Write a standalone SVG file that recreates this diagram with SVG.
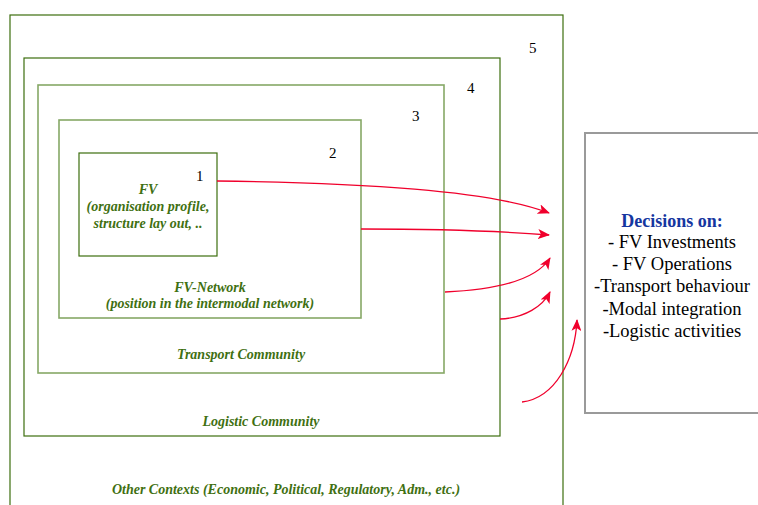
<svg xmlns="http://www.w3.org/2000/svg" width="758" height="505" viewBox="0 0 758 505">
<defs>
<style>
.bx{fill:none;stroke:#3d6e0e;stroke-width:1.2}
.bl{fill:none;stroke:#86a866;stroke-width:1.6}
.num{font-family:"Liberation Serif",serif;font-size:15px;fill:#000}
.gl{font-family:"Liberation Serif",serif;font-size:14px;font-weight:bold;font-style:italic;fill:#3f7012;text-anchor:middle}
.dt{font-family:"Liberation Serif",serif;font-size:18.5px;fill:#000;text-anchor:middle}
.dh{font-family:"Liberation Serif",serif;font-size:18px;font-weight:bold;fill:#1536a0;text-anchor:middle}
.ar{fill:none;stroke:#f0002c;stroke-width:1.3;marker-end:url(#ah)}
</style>
<marker id="ah" viewBox="0 0 12 10" refX="11" refY="5" markerWidth="12" markerHeight="10" markerUnits="userSpaceOnUse" orient="auto">
<path d="M0,0 L12,5 L0,10 L3,5 Z" fill="#f0002c"/>
</marker>
</defs>
<rect width="758" height="505" fill="#fff"/>
<g id="ctx5"><rect class="bx" x="10" y="15" width="553" height="500"/><text class="num" x="529" y="53">5</text><text class="gl" x="286" y="494">Other Contexts (Economic, Political, Regulatory, Adm., etc.)</text></g>
<g id="ctx4"><rect class="bx" x="24" y="58" width="476" height="378"/><text class="num" x="467" y="93">4</text><text class="gl" x="261" y="426">Logistic Community</text></g>
<g id="ctx3"><rect class="bl" x="38" y="85" width="406" height="288"/><text class="num" x="412" y="121">3</text><text class="gl" x="241" y="359">Transport Community</text></g>
<g id="ctx2"><rect class="bl" x="59" y="120" width="302" height="198"/><text class="num" x="329" y="158">2</text><text class="gl" x="210" y="292">FV-Network</text><text class="gl" x="210" y="308">(position in the intermodal network)</text></g>
<g id="ctx1"><rect class="bx" x="79" y="153" width="138" height="103"/><text class="num" x="196" y="181">1</text><text class="gl" x="148" y="194">FV</text><text class="gl" x="148" y="211">(organisation profile,</text><text class="gl" x="148" y="228">structure lay out, ..</text></g>
<g id="decisions"><rect x="585" y="133" width="180" height="280" fill="none" stroke="#9a9a9a" stroke-width="2"/>
<text class="dh" x="672" y="227">Decisions on:</text>
<text class="dt" x="672" y="248">- FV Investments</text>
<text class="dt" x="672" y="270">- FV Operations</text>
<text class="dt" x="672" y="292">-Transport behaviour</text>
<text class="dt" x="672" y="315">-Modal integration</text>
<text class="dt" x="672" y="337">-Logistic activities</text></g>
<g id="connectors">
<path class="ar" d="M217,181 C360,183 490,190 549,213"/>
<path class="ar" d="M361,229 C430,229 500,231 549,235"/>
<path class="ar" d="M445,292 C490,290 535,282 550,258"/>
<path class="ar" d="M500,319 C525,318 543,306 550,292"/>
<path class="ar" d="M522,402 C555,398 575,360 577,320"/>
</g>
</svg>
